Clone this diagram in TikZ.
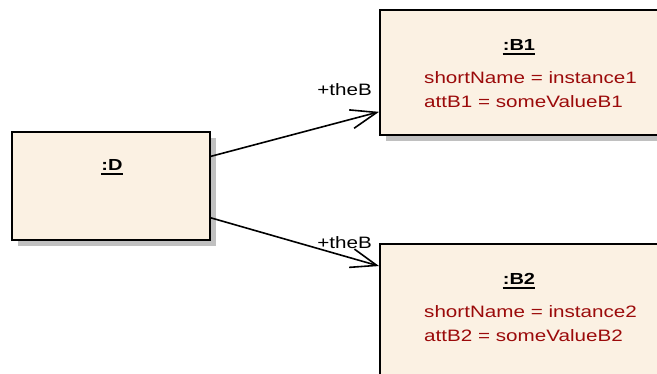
\documentclass[tikz,border=0pt]{standalone}
\usepackage{fontspec}
\setmainfont{Liberation Sans}[FakeStretch=1.25]
\usetikzlibrary{arrows.meta,calc,shadows}
\definecolor{objfill}{RGB}{251,241,227}
\definecolor{attrred}{RGB}{155,10,10}
\definecolor{shadowgray}{RGB}{192,192,192}
\begin{document}
\begin{tikzpicture}[x=1pt,y=-1pt,
 obj/.style={draw=black, line width=1.9pt, fill=objfill, rectangle, inner sep=0pt,
   general shadow={fill=shadowgray, shadow xshift=6pt, shadow yshift=-6pt}},
 title/.style={font=\fontsize{16}{18}\selectfont\bfseries, inner sep=0pt},
 attr/.style={font=\fontsize{16.5}{18}\selectfont, text=attrred, inner sep=0pt},
 lbl/.style={font=\fontsize{16.5}{18}\selectfont, inner sep=0pt},
 uline/.style={line width=1.5pt},
 assoc/.style={line width=1.6pt, -{Straight Barb[length=26pt,width=19pt]}}]
\useasboundingbox (0,0) rectangle (657,374);
% boxes
\node[obj, minimum width=198pt, minimum height=108pt] (D) at (111,186) {};
\node[obj, minimum width=279pt, minimum height=125pt] (B1) at (519.5,72.5) {};
\node[obj, minimum width=279pt, minimum height=150pt] (B2) at (519.5,319) {};
% titles
\node[title, anchor=base] (tD) at (112,171) {:D};
\draw[uline] ($(tD.base west)+(0,3)$) -- ($(tD.base east)+(0,3)$);
\node[title, anchor=base] (tB1) at (519,51) {:B1};
\draw[uline] ($(tB1.base west)+(0,3)$) -- ($(tB1.base east)+(0,3)$);
\node[title, anchor=base] (tB2) at (519,285) {:B2};
\draw[uline] ($(tB2.base west)+(0,3)$) -- ($(tB2.base east)+(0,3)$);
% attributes
\node[attr, anchor=base west] (a11) at (424,84) {shortName = instance1};
\node[attr, anchor=base west] (a12) at (424,108) {attB1 = someValueB1};
\node[attr, anchor=base west] (a21) at (424,318) {shortName = instance2};
\node[attr, anchor=base west] (a22) at (424,342) {attB2 = someValueB2};
% connectors
\draw[assoc] ($(D.north east)!0.23!(D.south east)$) -- ($(B1.north west)!0.81!(B1.south west)$);
\draw[assoc] ($(D.north east)!0.79!(D.south east)$) -- ($(B2.north west)+(0,23)$);
% role labels
\node[lbl, anchor=base east] (l1) at (372,96) {+theB};
\node[lbl, anchor=base east] (l2) at (372,249) {+theB};
\end{tikzpicture}
\end{document}
